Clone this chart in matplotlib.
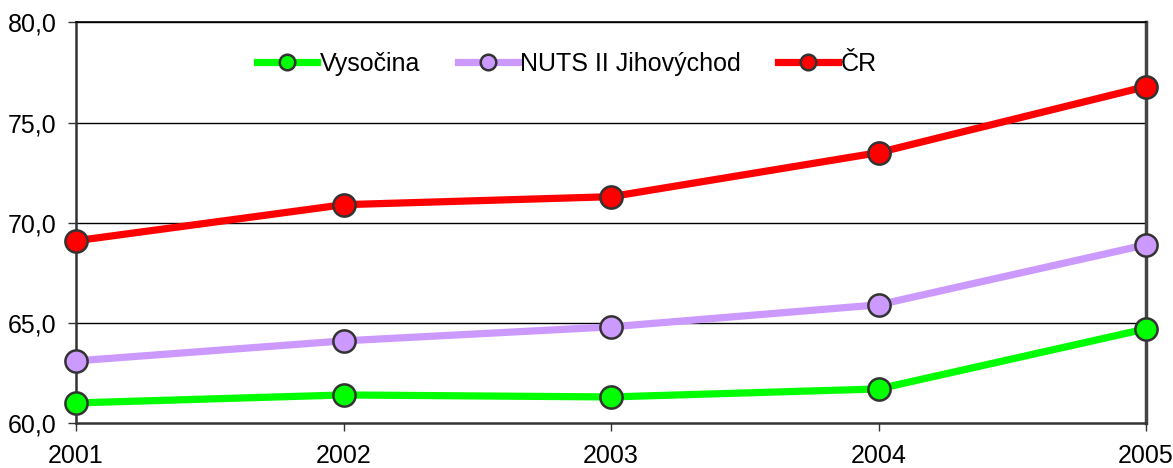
import matplotlib
matplotlib.use("Agg")
import matplotlib.pyplot as plt

plt.rcParams['font.family'] = ['Liberation Sans', 'DejaVu Sans']

# data
roky = [2001, 2002, 2003, 2004, 2005]
vysocina = [61.0, 61.4, 61.3, 61.7, 64.7]
jihovychod = [63.1, 64.1, 64.8, 65.9, 68.9]
cr = [69.1, 70.9, 71.3, 73.5, 76.8]
y_ticks = [60, 65, 70, 75, 80]

fig = plt.figure(figsize=(11.73, 4.68), dpi=100)
ax = fig.add_axes([0.0648, 0.0962, 0.977 - 0.0648, 0.952 - 0.0962])

series = [
    (vysocina, '#00ff00', 'Vysočina'),
    (jihovychod, '#cc99ff', 'NUTS II Jihovýchod'),
    (cr, '#ff0000', 'ČR'),
]

# gridlines
for y in y_ticks[1:]:
    ax.axhline(y, color='black', lw=1.0, zorder=1)

for vals, col, name in series:
    ax.plot(roky, vals, color=col, lw=5.2, marker='o', markersize=16,
            markerfacecolor=col, markeredgecolor='#333333', markeredgewidth=1.8,
            label=name, clip_on=False, zorder=3)

ax.set_xlim(2001, 2005)
ax.set_ylim(60, 80)
ax.set_xticks(roky)
ax.set_xticklabels([str(r) for r in roky])
ax.set_yticks(y_ticks)
ax.set_yticklabels([f"{v:.1f}".replace('.', ',') for v in y_ticks])

for side in ['left', 'bottom']:
    ax.spines[side].set_color('#333333')
    ax.spines[side].set_linewidth(1.8)
ax.spines['right'].set_color('#444444')
ax.spines['right'].set_linewidth(2.5)
ax.spines['top'].set_color('black')
ax.spines['top'].set_linewidth(1.2)

ax.tick_params(axis='both', labelsize=18, colors='#333333', labelcolor='black',
               length=6, width=1.0, direction='out')
ax.tick_params(axis='x', pad=9)
ax.tick_params(axis='y', pad=8)

leg = ax.legend(loc='center', bbox_to_anchor=(567 / 1173, 1 - 64 / 468),
                bbox_transform=fig.transFigure, ncol=3, frameon=False,
                fontsize=18, markerscale=0.7, handlelength=2.4,
                handletextpad=0.1, columnspacing=1.5)

fig.savefig('out.png', dpi=100)
